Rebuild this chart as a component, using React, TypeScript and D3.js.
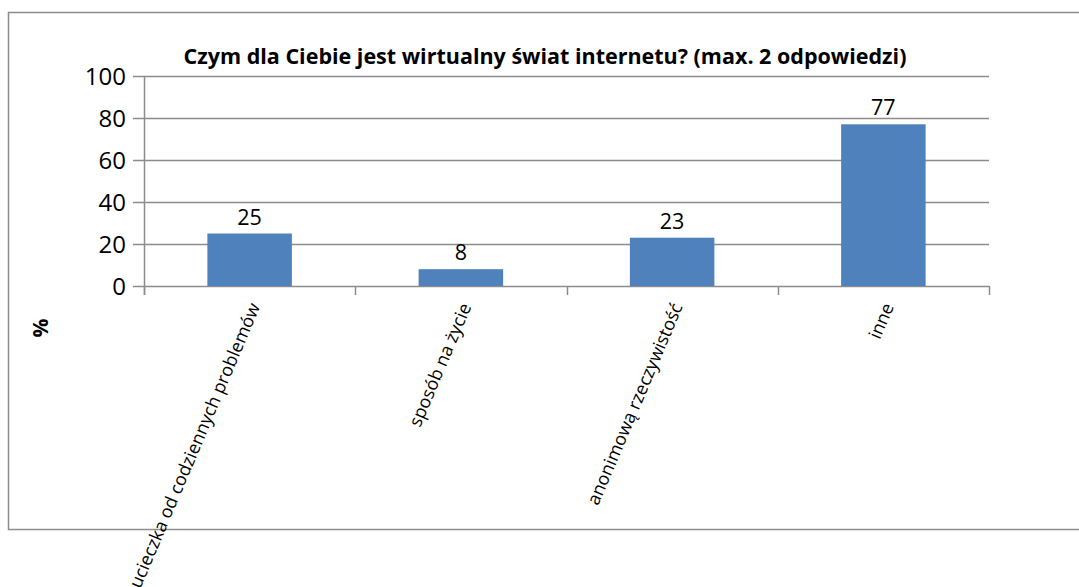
import React, { useEffect, useRef } from 'react';
import * as d3 from 'd3';

const categories = ['ucieczka od codziennych problemów', 'sposób na życie', 'anonimową rzeczywistość', 'inne'];
const values = [25, 8, 23, 77];
const yTicks = [0, 20, 40, 60, 80, 100];
const title = 'Czym dla Ciebie jest wirtualny świat internetu? (max. 2 odpowiedzi)';
const yAxisTitle = '%';

const App: React.FC = () => {
    const svgRef = useRef<SVGSVGElement | null>(null);

    useEffect(() => {
        if (!svgRef.current) return;
        const svg = d3.select(svgRef.current);
        svg.selectAll('*').remove();

        const width = 1079;
        const height = 587;
        const plot = { left: 144, right: 989, top: 76, bottom: 286 };
        const font = "'Open Sans', sans-serif";
        const gridColor = '#8c8c8c';

        svg.attr('width', width).attr('height', height);

        // ramka wykresu (prawa krawędź poza kadrem)
        svg.append('rect')
            .attr('x', 8.5).attr('y', 12.5)
            .attr('width', 1100).attr('height', 517)
            .attr('fill', 'white')
            .attr('stroke', gridColor).attr('stroke-width', 1.5);

        const x = d3.scaleBand()
            .domain(categories)
            .range([plot.left, plot.right])
            .paddingInner(0.6)
            .paddingOuter(0.3);

        const y = d3.scaleLinear().domain([0, 100]).range([plot.bottom, plot.top]);

        // linie siatki
        svg.append('g')
            .selectAll('line')
            .data(yTicks)
            .enter()
            .append('line')
            .attr('x1', plot.left - 11)
            .attr('x2', plot.right)
            .attr('y1', (d) => Math.round(y(d)) + 0.5)
            .attr('y2', (d) => Math.round(y(d)) + 0.5)
            .attr('stroke', gridColor)
            .attr('stroke-width', 1.5);

        // oś Y
        svg.append('line')
            .attr('x1', plot.left + 0.5).attr('x2', plot.left + 0.5)
            .attr('y1', plot.top).attr('y2', plot.bottom + 9)
            .attr('stroke', gridColor).attr('stroke-width', 1.5);

        // znaczniki kategorii na osi X
        const step = (plot.right - plot.left) / categories.length;
        const bounds = d3.range(categories.length + 1).map((i) => plot.left + i * step);
        svg.append('g')
            .selectAll('line')
            .data(bounds)
            .enter()
            .append('line')
            .attr('x1', (d) => Math.round(d) + 0.5)
            .attr('x2', (d) => Math.round(d) + 0.5)
            .attr('y1', plot.bottom)
            .attr('y2', plot.bottom + 9)
            .attr('stroke', gridColor)
            .attr('stroke-width', 1.5);

        // etykiety osi Y
        svg.append('g')
            .selectAll('text')
            .data(yTicks)
            .enter()
            .append('text')
            .text((d) => d)
            .attr('x', plot.left - 18)
            .attr('y', (d) => y(d))
            .attr('dy', '0.36em')
            .attr('text-anchor', 'end')
            .attr('font-family', font)
            .attr('font-size', 24)
            .attr('fill', '#000');

        // słupki
        svg.append('g')
            .selectAll('rect')
            .data(values)
            .enter()
            .append('rect')
            .attr('x', (d, i) => x(categories[i])!)
            .attr('y', (d) => y(d))
            .attr('width', x.bandwidth())
            .attr('height', (d) => plot.bottom - y(d))
            .attr('fill', '#4f81bd');

        // etykiety wartości
        svg.append('g')
            .selectAll('text')
            .data(values)
            .enter()
            .append('text')
            .text((d) => d)
            .attr('x', (d, i) => x(categories[i])! + x.bandwidth() / 2)
            .attr('y', (d) => y(d) - 9)
            .attr('text-anchor', 'middle')
            .attr('font-family', font)
            .attr('font-size', 21.5)
            .attr('fill', '#000');

        // etykiety kategorii (obrócone)
        svg.append('g')
            .selectAll('text')
            .data(categories)
            .enter()
            .append('text')
            .text((d) => d)
            .attr('transform', (d) => `translate(${x(d)! + x.bandwidth() / 2 + 5},${plot.bottom + 18}) rotate(-67)`)
            .attr('dy', '0.35em')
            .attr('text-anchor', 'end')
            .attr('font-family', font)
            .attr('font-size', 18)
            .attr('fill', '#000');

        // tytuł
        svg.append('text')
            .text(title)
            .attr('x', 545)
            .attr('y', 64)
            .attr('text-anchor', 'middle')
            .attr('font-family', font)
            .attr('font-weight', 'bold')
            .attr('font-size', 21.5)
            .attr('fill', '#000');

        // tytuł osi Y
        svg.append('text')
            .text(yAxisTitle)
            .attr('transform', 'translate(41,328) rotate(-90)')
            .attr('dy', '0.35em')
            .attr('text-anchor', 'middle')
            .attr('font-family', font)
            .attr('font-weight', 'bold')
            .attr('font-size', 21)
            .attr('fill', '#000');
    }, []);

    return (
        <div style={{ position: 'absolute', left: 0, top: 0 }}>
            <svg ref={svgRef}></svg>
        </div>
    );
};

export default App;
